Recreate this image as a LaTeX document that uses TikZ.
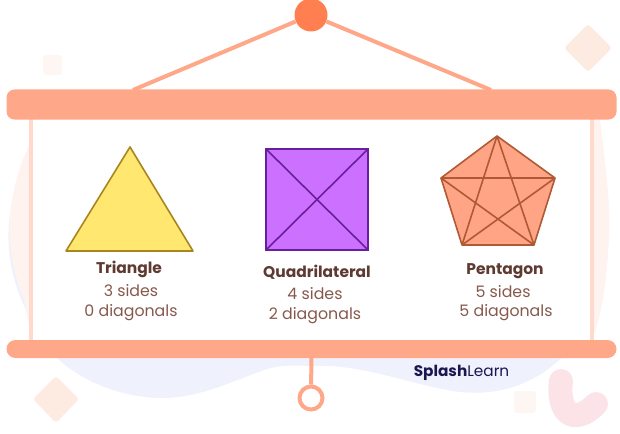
\documentclass[tikz,border=0pt]{standalone}
\usepackage{fontspec}
\setmainfont{Poppins}
\definecolor{barcol}{HTML}{FFA789}
\definecolor{pincol}{HTML}{FF7F50}
\definecolor{blobcol}{HTML}{EFF1FC}
\definecolor{railcol}{HTML}{FFD9CC}
\definecolor{paledia}{HTML}{FDEBE2}
\definecolor{hookcol}{HTML}{FBE3E8}
\definecolor{headcol}{HTML}{5E3A31}
\definecolor{bodycol}{HTML}{87594D}
\definecolor{brandcol}{HTML}{1B1650}
\definecolor{trifill}{HTML}{FFE770}
\definecolor{triedge}{HTML}{A8861F}
\definecolor{quadfill}{HTML}{CC70FF}
\definecolor{quadedge}{HTML}{6A1F9A}
\definecolor{pentfill}{HTML}{FFA585}
\definecolor{pentedge}{HTML}{B05A35}
\tikzset{
  bar/.style={fill=barcol,rounded corners=#1},
  facetext/.style={inner sep=0pt,font=\fontsize{15.8}{17}\selectfont,text=bodycol},
  headtext/.style={inner sep=0pt,font=\fontsize{15.5}{17}\selectfont\bfseries,text=headcol},
  trianglecol/.style={draw=triedge,fill=trifill,line width=1.6pt,line join=round},
  palemark/.style={fill=paledia,rounded corners=3pt},
}
\begin{document}
\begin{tikzpicture}[x=1pt,y=-1pt]
  \useasboundingbox (0,0) rectangle (620,433);
  % backdrop
  \fill[blobcol] (57,358) .. controls (10,300) and (5,250) .. (10,215)
    .. controls (15,170) and (40,130) .. (80,110) -- (560,110)
    .. controls (600,140) and (612,190) .. (608,250)
    .. controls (606,300) and (590,335) .. (560,359)
    .. controls (530,388) and (490,397) .. (453,391)
    .. controls (410,384) and (360,364) .. (317,366)
    .. controls (300,366) and (285,364) .. (267,369)
    .. controls (235,380) and (200,398) .. (163,398)
    .. controls (120,398) and (80,380) .. (57,358) -- cycle;
  \fill[paledia!60!white] (10,215) .. controls (15,170) and (30,130) .. (60,110) -- (32,340) -- (24,300) .. controls (12,270) and (8,240) .. (10,215) -- cycle;
  \fill[paledia!60!white] (592,120) -- (600,120) .. controls (606,170) and (612,210) .. (608,250) .. controls (606,290) and (600,320) .. (592,340) -- cycle;
  \fill[white] (33,118) rectangle (590,342);
  \fill[palemark] (588,24) -- (612,48) -- (588,72) -- (564,48) -- cycle;
  \fill[palemark] (56,376) -- (79,399) -- (56,423) -- (33,399) -- cycle;
  \fill[palemark,fill opacity=0.45] (43,55) rectangle (62,75);
  \fill[palemark,fill opacity=0.45] (514,391) rectangle (536,413);
  \draw[hookcol,line width=24pt,line cap=round] (561,381) .. controls (557,410) and (572,428) .. (596,404);
  % hanger
  \node[circle,fill=pincol,minimum size=33pt,inner sep=0pt] (pin) at (311,15) {};
  \coordinate (hangl) at (133,90);
  \coordinate (hangr) at (491,90);
  \begin{scope}[barcol,line width=4pt]
    \draw (pin) -- (hangl);
    \draw (pin) -- (hangr);
  \end{scope}
  % rails
  \coordinate (railtl) at (31,119);
  \coordinate (railbl) at (31,340);
  \coordinate (railtr) at (592,119);
  \coordinate (railbr) at (592,340);
  \draw[railcol,line width=3.5pt] (railtl) -- (railbl);
  \draw[railcol,line width=3.5pt] (railtr) -- (railbr);
  % bars
  \node[bar=8pt,minimum width=610pt,minimum height=30pt,inner sep=0pt] (topbar) at (311.5,104.5) {};
  \node[bar=9pt,minimum width=610pt,minimum height=18pt,inner sep=0pt] (botbar) at (311.5,349) {};
  \node[circle,draw=barcol,line width=4pt,fill=white,minimum size=23pt,inner sep=0pt] (ring) at (311,398) {};
  \draw[barcol,line width=4pt] (botbar) -- (ring);
  % triangle
  \coordinate (t0) at (130,147);
  \coordinate (t1) at (193,251);
  \coordinate (t2) at (66,251);
  \draw[trianglecol] (t0) -- (t1) -- (t2) -- cycle;
  % quadrilateral
  \coordinate (q0) at (266,149);
  \coordinate (q1) at (368,149);
  \coordinate (q2) at (368,250);
  \coordinate (q3) at (266,250);
  \begin{scope}[draw=quadedge,line width=1.6pt]
    \draw[fill=quadfill] (q0) -- (q1) -- (q2) -- (q3) -- cycle;
    \draw (q0) to (q2);
    \draw (q1) to (q3);
  \end{scope}
  % pentagon
  \coordinate (p0) at (497,136);
  \coordinate (p1) at (555,178);
  \coordinate (p2) at (534,245);
  \coordinate (p3) at (462,245);
  \coordinate (p4) at (441,178);
  \begin{scope}[draw=pentedge,line width=1.6pt,line join=round]
    \draw[fill=pentfill] (p0) -- (p1) -- (p2) -- (p3) -- (p4) -- cycle;
    \draw (p0) to (p2);
    \draw (p0) to (p3);
    \draw (p1) to (p3);
    \draw (p1) to (p4);
    \draw (p2) to (p4);
  \end{scope}
  % labels
  \node[headtext] (trihead) at (129,269) {Triangle};
  \node[facetext] (triside) at (131,290.5) {3 sides};
  \node[facetext] (tridiag) at (131,313) {0 diagonals};
  \node[headtext] (quadhead) at (317,272) {Quadrilateral};
  \node[facetext] (quadside) at (315,293.5) {4 sides};
  \node[facetext] (quaddiag) at (315,316) {2 diagonals};
  \node[headtext] (penthead) at (505,271) {Pentagon};
  \node[facetext] (pentside) at (503,291.5) {5 sides};
  \node[facetext] (pentdiag) at (506,313) {5 diagonals};
  \node[inner sep=0pt,text=brandcol,font=\fontsize{15.3}{16}\selectfont] (brand) at (461.5,372.5) {\textbf{Splash}Learn};
\end{tikzpicture}
\end{document}
